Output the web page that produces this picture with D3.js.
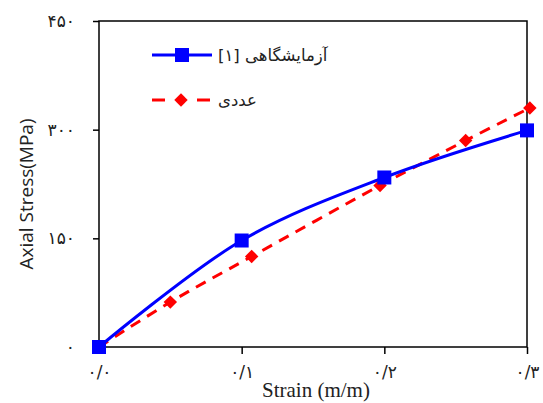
<!DOCTYPE html>
<html>
<head>
<meta charset="utf-8">
<style>
  body { margin:0; padding:0; overflow:hidden; background:#fff; }
</style>
</head>
<body>
<div id="chart"></div>
<script src="https://cdn.jsdelivr.net/npm/d3@7"></script>
<script>
// values
var expStrain = [0, 0.1, 0.2, 0.3];
var expStress = [0, 147, 234, 299];
var numStrain = [0, 0.05, 0.107, 0.197, 0.257, 0.302];
var numStress = [0, 62, 125, 223, 285, 330];
var xTicks = [0, 0.1, 0.2, 0.3];
var xTickLabels = ["۰/۰", "۰/۱", "۰/۲", "۰/۳"];
var yTicks = [0, 150, 300, 450];
var yTickLabels = ["۰", "۱۵۰", "۳۰۰", "۴۵۰"];
var legendLabels = ["آزمایشگاهی [۱]", "عددی"];

var width = 543, height = 403;
var pLeft = 99, pRight = 527, pTop = 21, pBottom = 347;

var svg = d3.select('#chart').append('svg')
    .attr('width', width).attr('height', height);

var x = d3.scaleLinear().domain([0, 0.3]).range([pLeft, pRight]);
var y = d3.scaleLinear().domain([0, 450]).range([pBottom, pTop]);

// frame
svg.append('rect')
    .attr('x', pLeft).attr('y', pTop)
    .attr('width', pRight - pLeft).attr('height', pBottom - pTop)
    .style('fill', 'none').style('stroke', '#000').style('stroke-width', 1.5);

var xAxis = svg.append('g')
    .attr('transform', 'translate(0,' + pBottom + ')')
    .call(d3.axisBottom(x).tickValues(xTicks).tickSize(7).tickPadding(12)
        .tickFormat(function(d, i){ return xTickLabels[i]; }));
var yAxis = svg.append('g')
    .attr('transform', 'translate(' + pLeft + ',0)')
    .call(d3.axisLeft(y).tickValues(yTicks).tickSize(6).tickPadding(18)
        .tickFormat(function(d, i){ return yTickLabels[i]; }));

[xAxis, yAxis].forEach(function(g){
    g.select('.domain').remove();
    g.selectAll('line').style('stroke', '#000').style('stroke-width', 1.5);
    g.selectAll('text').style('font-family', 'DejaVu Sans').style('font-size', '17px')
        .style('letter-spacing', '2px').style('fill', '#222');
});

// lines
var line = d3.line().curve(d3.curveCatmullRom.alpha(0.5));

var expPts = expStrain.map(function(d, i){ return [x(d), y(expStress[i])]; });
var numPts = numStrain.map(function(d, i){ return [x(d), y(numStress[i])]; });

svg.append('path').attr('d', line(numPts))
    .style('fill', 'none').style('stroke', '#ff0000').style('stroke-width', 3)
    .style('stroke-dasharray', '11,8');
svg.append('path').attr('d', line(expPts))
    .style('fill', 'none').style('stroke', '#0000ff').style('stroke-width', 3);

var diamond = d3.symbol().type(d3.symbolSquare).size(90);
svg.selectAll('.dia').data(numPts).enter().append('path')
    .attr('d', diamond)
    .attr('transform', function(d){ return 'translate(' + d[0] + ',' + d[1] + ') rotate(45)'; })
    .style('fill', '#ff0000');

svg.selectAll('.sq').data(expPts).enter().append('rect')
    .attr('x', function(d){ return d[0] - 7; })
    .attr('y', function(d){ return d[1] - 7; })
    .attr('width', 14).attr('height', 14)
    .style('fill', '#0000ff');

// legend
var lg = svg.append('g');
lg.append('line').attr('x1', 152).attr('x2', 212).attr('y1', 55).attr('y2', 55)
    .style('stroke', '#0000ff').style('stroke-width', 3);
lg.append('rect').attr('x', 175).attr('y', 48).attr('width', 14).attr('height', 14)
    .style('fill', '#0000ff');
lg.append('line').attr('x1', 152).attr('x2', 165).attr('y1', 100).attr('y2', 100)
    .style('stroke', '#ff0000').style('stroke-width', 3);
lg.append('line').attr('x1', 197).attr('x2', 210).attr('y1', 100).attr('y2', 100)
    .style('stroke', '#ff0000').style('stroke-width', 3);
lg.append('path').attr('d', diamond)
    .attr('transform', 'translate(181,100) rotate(45)')
    .style('fill', '#ff0000');
lg.selectAll('text').data(legendLabels).enter().append('text')
    .attr('x', 218).attr('y', function(d, i){ return i ? 106 : 61; })
    .attr('direction', 'rtl')
    .style('text-anchor', 'end')
    .style('font-family', 'DejaVu Sans').style('font-size', '16.5px').style('fill', '#222')
    .text(function(d){ return d; });

// axis titles
svg.append('text')
    .attr('transform', 'translate(33,194) rotate(-90)')
    .style('text-anchor', 'middle')
    .style('font-family', 'Open Sans').style('font-size', '19px').style('fill', '#222')
    .text('Axial Stress(MPa)');
svg.append('text')
    .attr('x', (pLeft + pRight) / 2 + 3).attr('y', 397)
    .style('text-anchor', 'middle')
    .style('font-family', 'Liberation Serif').style('font-size', '21px').style('fill', '#222')
    .text('Strain (m/m)');
</script>
</body>
</html>
